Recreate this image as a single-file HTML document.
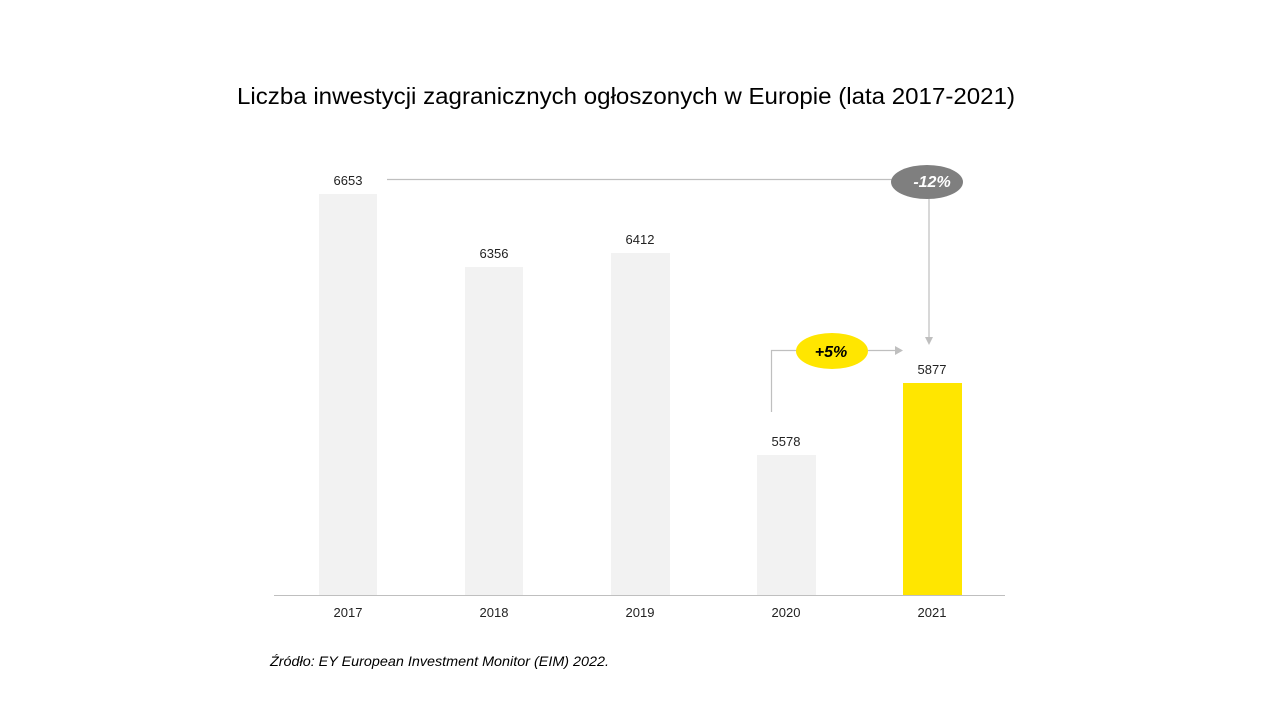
<!DOCTYPE html><html><head><meta charset="utf-8"><style>body{margin:0;background:#fff}svg{display:block}</style></head><body>
<svg width="1280" height="720" xmlns="http://www.w3.org/2000/svg" font-family="Liberation Sans, DejaVu Sans, sans-serif">
<text x="237" y="104" font-size="23" textLength="778" lengthAdjust="spacingAndGlyphs" fill="#000">Liczba inwestycji zagranicznych ogłoszonych w Europie (lata 2017-2021)</text>
<g fill="#f2f2f2">
<rect x="319" y="194" width="58" height="401"/>
<rect x="465" y="267" width="58" height="328"/>
<rect x="611" y="253" width="59" height="342"/>
<rect x="757" y="455" width="59" height="140"/>
</g>
<rect x="903" y="383" width="59" height="212" fill="#ffe600"/>
<line x1="274" y1="595.5" x2="1005" y2="595.5" stroke="#bfbfbf" stroke-width="1"/>
<g font-size="13" text-anchor="middle" fill="#222">
<text x="348" y="185">6653</text><text x="494" y="258">6356</text><text x="640" y="244">6412</text><text x="786" y="446">5578</text><text x="932" y="374">5877</text>
<text x="348" y="617">2017</text><text x="494" y="617">2018</text><text x="640" y="617">2019</text><text x="786" y="617">2020</text><text x="932" y="617">2021</text>
</g>
<g stroke="#bfbfbf" stroke-width="1.2" fill="none">
<polyline points="387,179.5 892,179.5"/>
<line x1="929" y1="197" x2="929" y2="338"/>
<polyline points="771.5,412 771.5,350.5 797,350.5"/>
<line x1="868" y1="350.5" x2="896" y2="350.5"/>
</g>
<polygon points="925,337 933,337 929,345" fill="#bfbfbf"/>
<polygon points="895,346 903,350.5 895,355" fill="#bfbfbf"/>
<ellipse cx="927" cy="182" rx="36" ry="17" fill="#7f7f7f"/>
<text x="932" y="187" font-size="16" font-weight="bold" font-style="italic" fill="#fff" text-anchor="middle">-12%</text>
<ellipse cx="832" cy="351" rx="36" ry="18" fill="#ffe600"/>
<text x="831" y="357" font-size="16" font-weight="bold" font-style="italic" fill="#000" text-anchor="middle">+5%</text>
<text x="270" y="666" font-size="14" font-style="italic" textLength="339" lengthAdjust="spacingAndGlyphs" fill="#000">Źródło: EY European Investment Monitor (EIM) 2022.</text>
</svg></body></html>
